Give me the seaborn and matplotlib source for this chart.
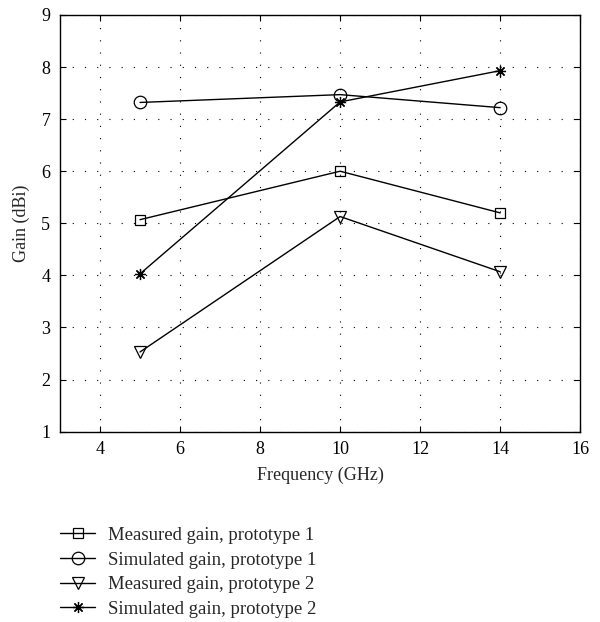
import matplotlib
matplotlib.use("Agg")
import matplotlib.pyplot as plt
import seaborn as sns
import pandas as pd

freq = [5, 10, 14]
measured_p1 = [5.07, 6.00, 5.20]
simulated_p1 = [7.32, 7.47, 7.22]
measured_p2 = [2.53, 5.13, 4.07]
simulated_p2 = [4.03, 7.33, 7.93]
labels = ["Measured gain, prototype 1", "Simulated gain, prototype 1",
          "Measured gain, prototype 2", "Simulated gain, prototype 2"]
series = [measured_p1, simulated_p1, measured_p2, simulated_p2]

rows = []
for lab, vals in zip(labels, series):
    for f, v in zip(freq, vals):
        rows.append({"Frequency": f, "Gain": v, "Series": lab})
df = pd.DataFrame(rows)

sns.set_style("ticks")
plt.rcParams["font.family"] = ["Liberation Serif", "DejaVu Serif"]
plt.rcParams["font.size"] = 13

fig = plt.figure(figsize=(6.0, 6.22), dpi=100)
ax = fig.add_axes([0.1, 0.306, 0.867, 0.67])

markers = {labels[0]: "s", labels[1]: "o", labels[2]: "v", labels[3]: (8, 2, 0)}
sizes = {labels[0]: 7, labels[1]: 9, labels[2]: 9, labels[3]: 8}
for lab in labels:
    sub = df[df["Series"] == lab]
    sns.lineplot(data=sub, x="Frequency", y="Gain", ax=ax, color="black",
                 marker=markers[lab], markersize=sizes[lab], markerfacecolor="none",
                 markeredgecolor="black", markeredgewidth=0.9, linewidth=1.0,
                 label=lab, legend=False)

ax.set_xlim(3, 16)
ax.set_ylim(1, 9)
ax.set_xticks([4, 6, 8, 10, 12, 14, 16])
ax.set_yticks([1, 2, 3, 4, 5, 6, 7, 8, 9])
ax.set_xlabel("Frequency (GHz)", fontsize=13, labelpad=6)
ax.set_ylabel("Gain (dBi)", fontsize=13, labelpad=8)
ax.grid(True, linestyle=(0, (1, 10)), color="black", linewidth=0.8)
ax.tick_params(direction="in", top=True, right=True, length=4, labelsize=13,
               colors="black", pad=7)
for s in ax.spines.values():
    s.set_visible(True)
    s.set_color("black")
    s.set_linewidth(1.0)

handles, labs = ax.get_legend_handles_labels()
fig.legend(handles, labs, loc="upper left", bbox_to_anchor=(0.088, 0.165),
           frameon=False, fontsize=13.5, handlelength=1.85, labelspacing=0.4,
           handletextpad=0.7, borderaxespad=0)

fig.savefig("out.png", dpi=100)
